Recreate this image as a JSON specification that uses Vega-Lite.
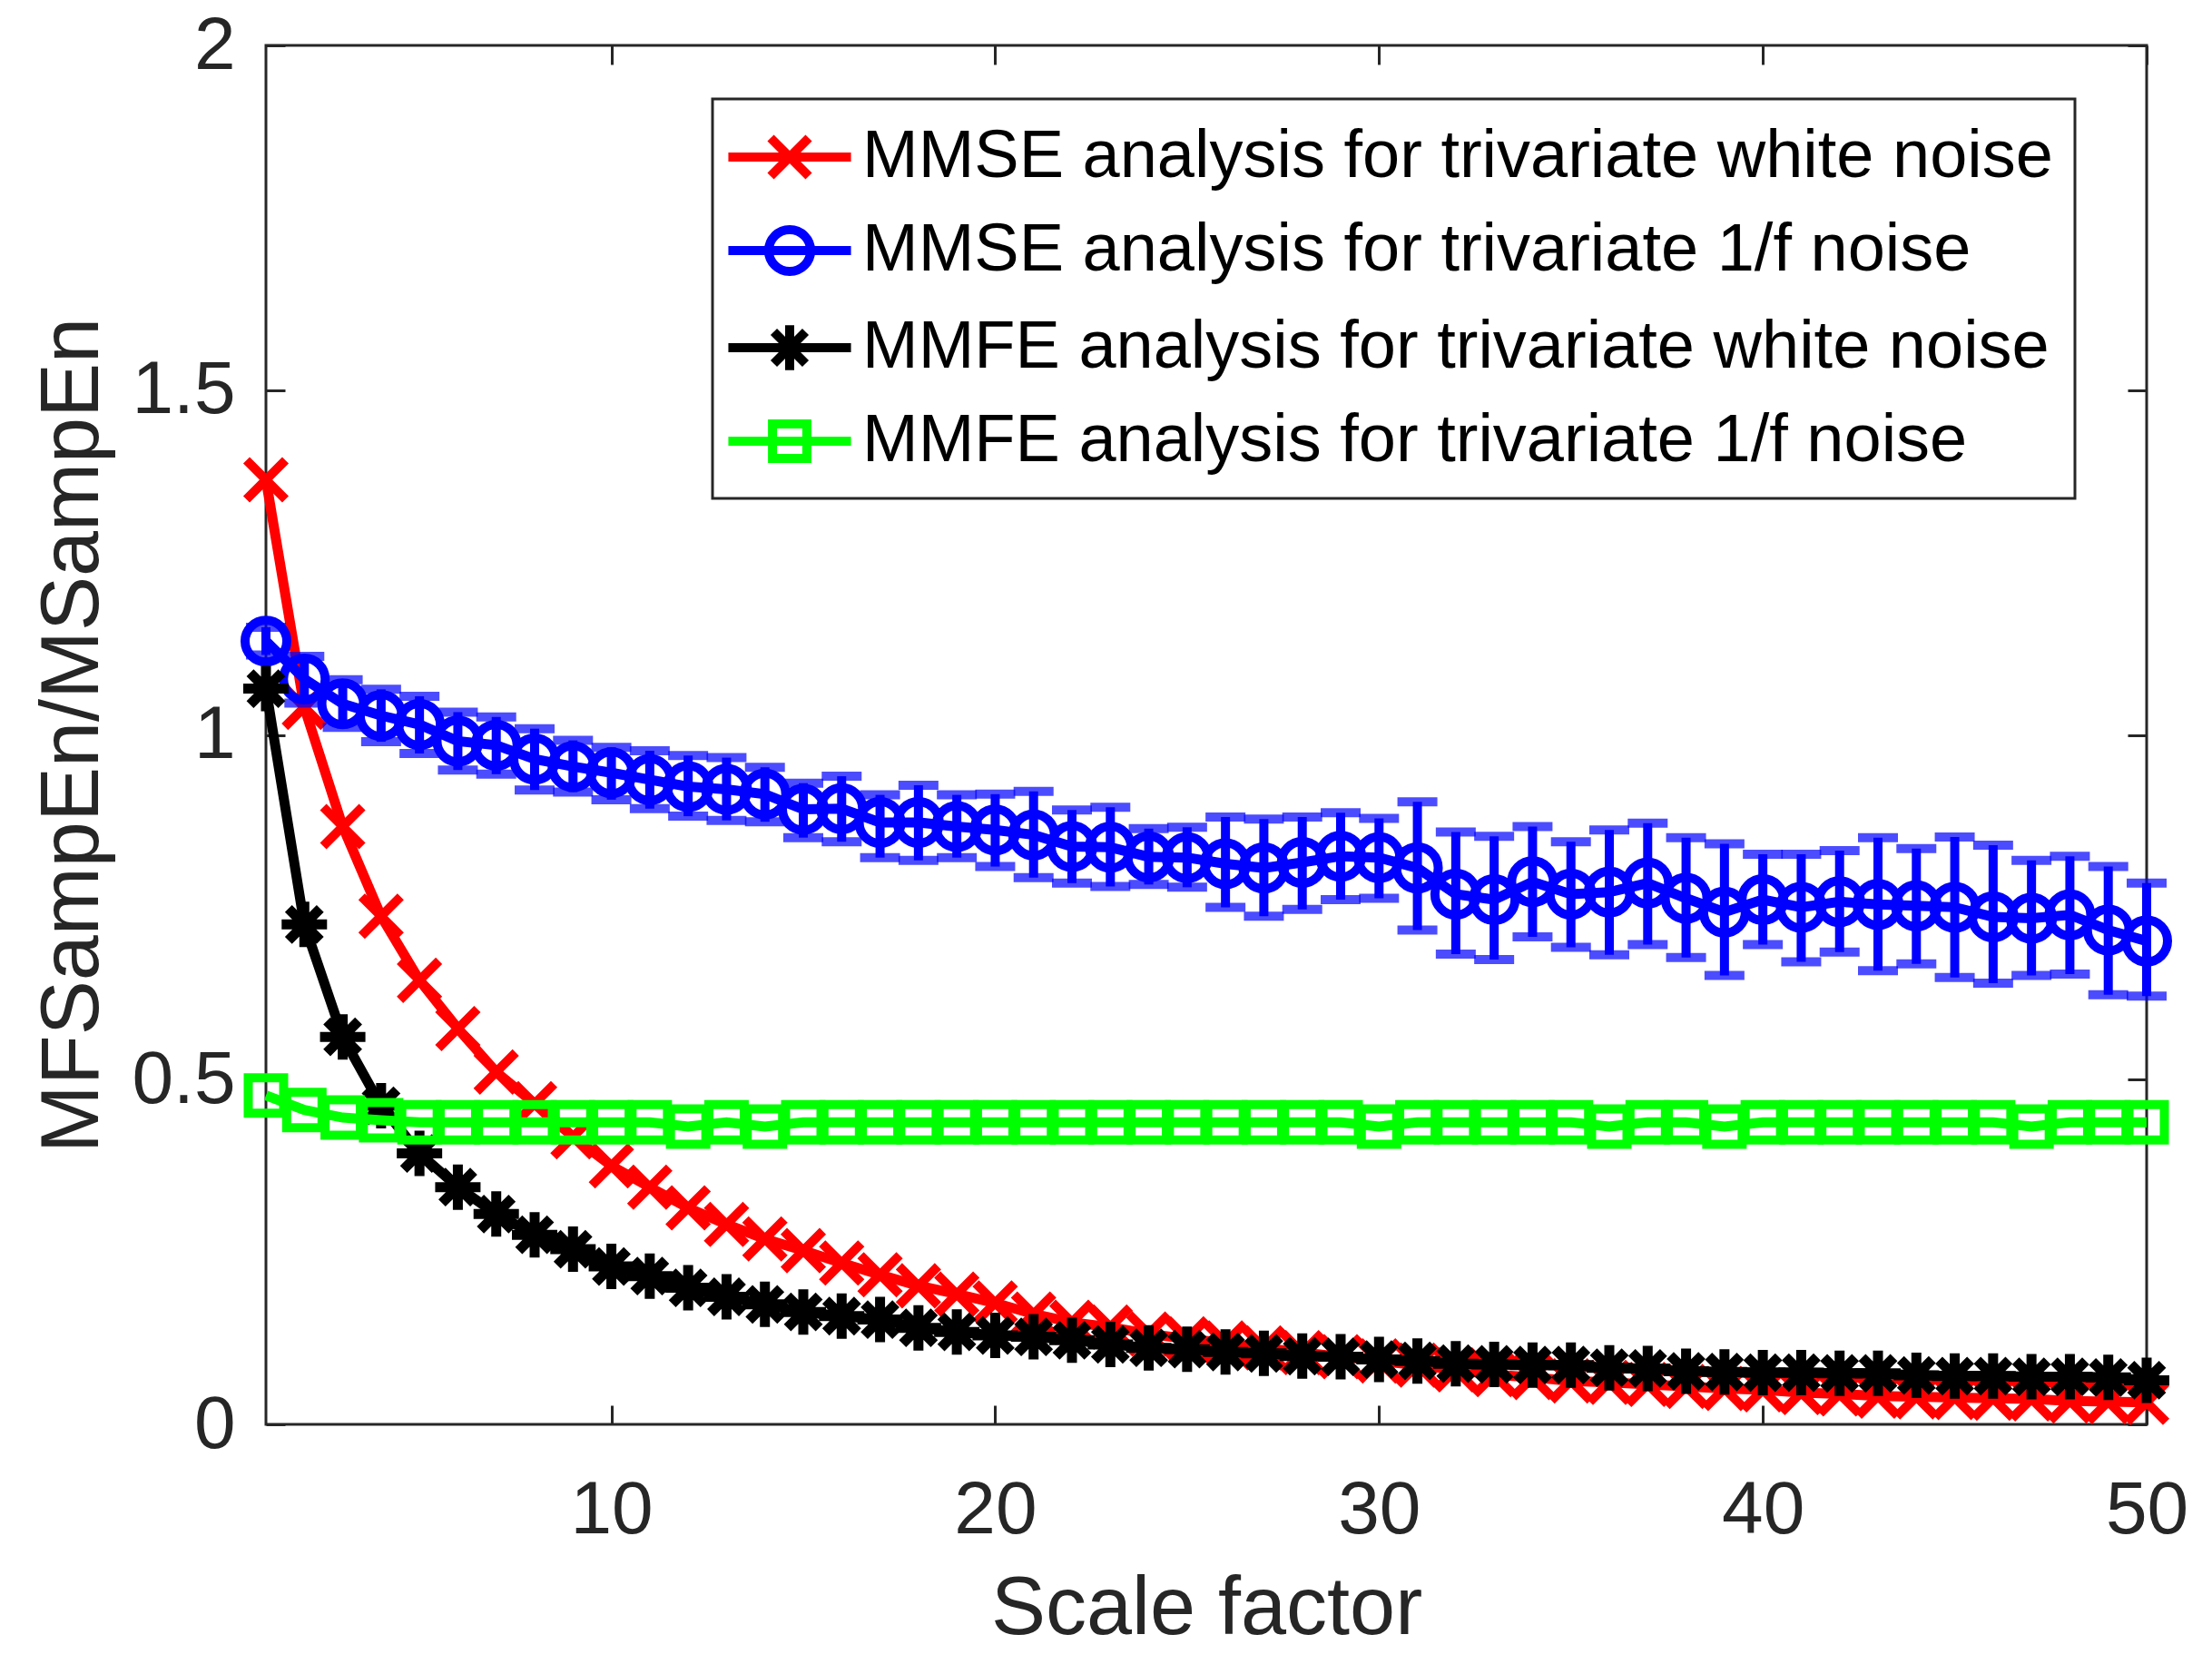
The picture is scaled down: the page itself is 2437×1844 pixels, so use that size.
{
"$schema": "https://vega.github.io/schema/vega-lite/v6.json",
"width": 2072, "height": 1519,
"autosize": {"type": "none"},
"padding": {"left": 293, "top": 50, "right": 72, "bottom": 275},
"config": {
  "view": {"stroke": "#262626", "strokeWidth": 3},
  "font": "Liberation Sans",
  "axis": {"domain": false, "grid": false, "tickColor": "#262626", "tickWidth": 3, "tickSize": -21, "labelFlush": false,
    "labelColor": "#262626", "labelFontSize": 82, "labelFont": "Liberation Sans",
    "titleFont": "Liberation Sans", "titleFontSize": 90, "titleFontWeight": "normal", "titleColor": "#262626"}
},
"datasets": {
"pts": [
{"series":"MMSE analysis for trivariate white noise","x":1,"y":1.370},
{"series":"MMSE analysis for trivariate white noise","x":2,"y":1.040},
{"series":"MMSE analysis for trivariate white noise","x":3,"y":0.867},
{"series":"MMSE analysis for trivariate white noise","x":4,"y":0.737},
{"series":"MMSE analysis for trivariate white noise","x":5,"y":0.644},
{"series":"MMSE analysis for trivariate white noise","x":6,"y":0.574},
{"series":"MMSE analysis for trivariate white noise","x":7,"y":0.511},
{"series":"MMSE analysis for trivariate white noise","x":8,"y":0.465},
{"series":"MMSE analysis for trivariate white noise","x":9,"y":0.417},
{"series":"MMSE analysis for trivariate white noise","x":10,"y":0.375},
{"series":"MMSE analysis for trivariate white noise","x":11,"y":0.344},
{"series":"MMSE analysis for trivariate white noise","x":12,"y":0.314},
{"series":"MMSE analysis for trivariate white noise","x":13,"y":0.290},
{"series":"MMSE analysis for trivariate white noise","x":14,"y":0.269},
{"series":"MMSE analysis for trivariate white noise","x":15,"y":0.252},
{"series":"MMSE analysis for trivariate white noise","x":16,"y":0.234},
{"series":"MMSE analysis for trivariate white noise","x":17,"y":0.217},
{"series":"MMSE analysis for trivariate white noise","x":18,"y":0.201},
{"series":"MMSE analysis for trivariate white noise","x":19,"y":0.189},
{"series":"MMSE analysis for trivariate white noise","x":20,"y":0.176},
{"series":"MMSE analysis for trivariate white noise","x":21,"y":0.160},
{"series":"MMSE analysis for trivariate white noise","x":22,"y":0.148},
{"series":"MMSE analysis for trivariate white noise","x":23,"y":0.141},
{"series":"MMSE analysis for trivariate white noise","x":24,"y":0.131},
{"series":"MMSE analysis for trivariate white noise","x":25,"y":0.124},
{"series":"MMSE analysis for trivariate white noise","x":26,"y":0.118},
{"series":"MMSE analysis for trivariate white noise","x":27,"y":0.111},
{"series":"MMSE analysis for trivariate white noise","x":28,"y":0.104},
{"series":"MMSE analysis for trivariate white noise","x":29,"y":0.098},
{"series":"MMSE analysis for trivariate white noise","x":30,"y":0.092},
{"series":"MMSE analysis for trivariate white noise","x":31,"y":0.086},
{"series":"MMSE analysis for trivariate white noise","x":32,"y":0.079},
{"series":"MMSE analysis for trivariate white noise","x":33,"y":0.072},
{"series":"MMSE analysis for trivariate white noise","x":34,"y":0.068},
{"series":"MMSE analysis for trivariate white noise","x":35,"y":0.063},
{"series":"MMSE analysis for trivariate white noise","x":36,"y":0.061},
{"series":"MMSE analysis for trivariate white noise","x":37,"y":0.058},
{"series":"MMSE analysis for trivariate white noise","x":38,"y":0.055},
{"series":"MMSE analysis for trivariate white noise","x":39,"y":0.052},
{"series":"MMSE analysis for trivariate white noise","x":40,"y":0.050},
{"series":"MMSE analysis for trivariate white noise","x":41,"y":0.046},
{"series":"MMSE analysis for trivariate white noise","x":42,"y":0.044},
{"series":"MMSE analysis for trivariate white noise","x":43,"y":0.041},
{"series":"MMSE analysis for trivariate white noise","x":44,"y":0.040},
{"series":"MMSE analysis for trivariate white noise","x":45,"y":0.039},
{"series":"MMSE analysis for trivariate white noise","x":46,"y":0.038},
{"series":"MMSE analysis for trivariate white noise","x":47,"y":0.037},
{"series":"MMSE analysis for trivariate white noise","x":48,"y":0.034},
{"series":"MMSE analysis for trivariate white noise","x":49,"y":0.033},
{"series":"MMSE analysis for trivariate white noise","x":50,"y":0.032},
{"series":"MMSE analysis for trivariate 1/f noise","x":1,"y":1.136},
{"series":"MMSE analysis for trivariate 1/f noise","x":2,"y":1.081},
{"series":"MMSE analysis for trivariate 1/f noise","x":3,"y":1.045},
{"series":"MMSE analysis for trivariate 1/f noise","x":4,"y":1.028},
{"series":"MMSE analysis for trivariate 1/f noise","x":5,"y":1.015},
{"series":"MMSE analysis for trivariate 1/f noise","x":6,"y":0.991},
{"series":"MMSE analysis for trivariate 1/f noise","x":7,"y":0.985},
{"series":"MMSE analysis for trivariate 1/f noise","x":8,"y":0.965},
{"series":"MMSE analysis for trivariate 1/f noise","x":9,"y":0.954},
{"series":"MMSE analysis for trivariate 1/f noise","x":10,"y":0.945},
{"series":"MMSE analysis for trivariate 1/f noise","x":11,"y":0.935},
{"series":"MMSE analysis for trivariate 1/f noise","x":12,"y":0.925},
{"series":"MMSE analysis for trivariate 1/f noise","x":13,"y":0.921},
{"series":"MMSE analysis for trivariate 1/f noise","x":14,"y":0.914},
{"series":"MMSE analysis for trivariate 1/f noise","x":15,"y":0.892},
{"series":"MMSE analysis for trivariate 1/f noise","x":16,"y":0.893},
{"series":"MMSE analysis for trivariate 1/f noise","x":17,"y":0.873},
{"series":"MMSE analysis for trivariate 1/f noise","x":18,"y":0.873},
{"series":"MMSE analysis for trivariate 1/f noise","x":19,"y":0.867},
{"series":"MMSE analysis for trivariate 1/f noise","x":20,"y":0.862},
{"series":"MMSE analysis for trivariate 1/f noise","x":21,"y":0.855},
{"series":"MMSE analysis for trivariate 1/f noise","x":22,"y":0.838},
{"series":"MMSE analysis for trivariate 1/f noise","x":23,"y":0.837},
{"series":"MMSE analysis for trivariate 1/f noise","x":24,"y":0.823},
{"series":"MMSE analysis for trivariate 1/f noise","x":25,"y":0.822},
{"series":"MMSE analysis for trivariate 1/f noise","x":26,"y":0.813},
{"series":"MMSE analysis for trivariate 1/f noise","x":27,"y":0.807},
{"series":"MMSE analysis for trivariate 1/f noise","x":28,"y":0.815},
{"series":"MMSE analysis for trivariate 1/f noise","x":29,"y":0.824},
{"series":"MMSE analysis for trivariate 1/f noise","x":30,"y":0.822},
{"series":"MMSE analysis for trivariate 1/f noise","x":31,"y":0.807},
{"series":"MMSE analysis for trivariate 1/f noise","x":32,"y":0.769},
{"series":"MMSE analysis for trivariate 1/f noise","x":33,"y":0.761},
{"series":"MMSE analysis for trivariate 1/f noise","x":34,"y":0.787},
{"series":"MMSE analysis for trivariate 1/f noise","x":35,"y":0.769},
{"series":"MMSE analysis for trivariate 1/f noise","x":36,"y":0.772},
{"series":"MMSE analysis for trivariate 1/f noise","x":37,"y":0.785},
{"series":"MMSE analysis for trivariate 1/f noise","x":38,"y":0.763},
{"series":"MMSE analysis for trivariate 1/f noise","x":39,"y":0.743},
{"series":"MMSE analysis for trivariate 1/f noise","x":40,"y":0.761},
{"series":"MMSE analysis for trivariate 1/f noise","x":41,"y":0.750},
{"series":"MMSE analysis for trivariate 1/f noise","x":42,"y":0.758},
{"series":"MMSE analysis for trivariate 1/f noise","x":43,"y":0.754},
{"series":"MMSE analysis for trivariate 1/f noise","x":44,"y":0.752},
{"series":"MMSE analysis for trivariate 1/f noise","x":45,"y":0.750},
{"series":"MMSE analysis for trivariate 1/f noise","x":46,"y":0.736},
{"series":"MMSE analysis for trivariate 1/f noise","x":47,"y":0.734},
{"series":"MMSE analysis for trivariate 1/f noise","x":48,"y":0.739},
{"series":"MMSE analysis for trivariate 1/f noise","x":49,"y":0.717},
{"series":"MMSE analysis for trivariate 1/f noise","x":50,"y":0.701},
{"series":"MMFE analysis for trivariate white noise","x":1,"y":1.067},
{"series":"MMFE analysis for trivariate white noise","x":2,"y":0.725},
{"series":"MMFE analysis for trivariate white noise","x":3,"y":0.562},
{"series":"MMFE analysis for trivariate white noise","x":4,"y":0.462},
{"series":"MMFE analysis for trivariate white noise","x":5,"y":0.393},
{"series":"MMFE analysis for trivariate white noise","x":6,"y":0.344},
{"series":"MMFE analysis for trivariate white noise","x":7,"y":0.305},
{"series":"MMFE analysis for trivariate white noise","x":8,"y":0.275},
{"series":"MMFE analysis for trivariate white noise","x":9,"y":0.254},
{"series":"MMFE analysis for trivariate white noise","x":10,"y":0.229},
{"series":"MMFE analysis for trivariate white noise","x":11,"y":0.215},
{"series":"MMFE analysis for trivariate white noise","x":12,"y":0.198},
{"series":"MMFE analysis for trivariate white noise","x":13,"y":0.185},
{"series":"MMFE analysis for trivariate white noise","x":14,"y":0.174},
{"series":"MMFE analysis for trivariate white noise","x":15,"y":0.163},
{"series":"MMFE analysis for trivariate white noise","x":16,"y":0.157},
{"series":"MMFE analysis for trivariate white noise","x":17,"y":0.152},
{"series":"MMFE analysis for trivariate white noise","x":18,"y":0.140},
{"series":"MMFE analysis for trivariate white noise","x":19,"y":0.134},
{"series":"MMFE analysis for trivariate white noise","x":20,"y":0.129},
{"series":"MMFE analysis for trivariate white noise","x":21,"y":0.127},
{"series":"MMFE analysis for trivariate white noise","x":22,"y":0.122},
{"series":"MMFE analysis for trivariate white noise","x":23,"y":0.116},
{"series":"MMFE analysis for trivariate white noise","x":24,"y":0.111},
{"series":"MMFE analysis for trivariate white noise","x":25,"y":0.109},
{"series":"MMFE analysis for trivariate white noise","x":26,"y":0.105},
{"series":"MMFE analysis for trivariate white noise","x":27,"y":0.103},
{"series":"MMFE analysis for trivariate white noise","x":28,"y":0.099},
{"series":"MMFE analysis for trivariate white noise","x":29,"y":0.098},
{"series":"MMFE analysis for trivariate white noise","x":30,"y":0.094},
{"series":"MMFE analysis for trivariate white noise","x":31,"y":0.092},
{"series":"MMFE analysis for trivariate white noise","x":32,"y":0.088},
{"series":"MMFE analysis for trivariate white noise","x":33,"y":0.087},
{"series":"MMFE analysis for trivariate white noise","x":34,"y":0.086},
{"series":"MMFE analysis for trivariate white noise","x":35,"y":0.086},
{"series":"MMFE analysis for trivariate white noise","x":36,"y":0.082},
{"series":"MMFE analysis for trivariate white noise","x":37,"y":0.081},
{"series":"MMFE analysis for trivariate white noise","x":38,"y":0.077},
{"series":"MMFE analysis for trivariate white noise","x":39,"y":0.076},
{"series":"MMFE analysis for trivariate white noise","x":40,"y":0.075},
{"series":"MMFE analysis for trivariate white noise","x":41,"y":0.075},
{"series":"MMFE analysis for trivariate white noise","x":42,"y":0.074},
{"series":"MMFE analysis for trivariate white noise","x":43,"y":0.074},
{"series":"MMFE analysis for trivariate white noise","x":44,"y":0.071},
{"series":"MMFE analysis for trivariate white noise","x":45,"y":0.070},
{"series":"MMFE analysis for trivariate white noise","x":46,"y":0.070},
{"series":"MMFE analysis for trivariate white noise","x":47,"y":0.069},
{"series":"MMFE analysis for trivariate white noise","x":48,"y":0.069},
{"series":"MMFE analysis for trivariate white noise","x":49,"y":0.068},
{"series":"MMFE analysis for trivariate white noise","x":50,"y":0.064},
{"series":"MMFE analysis for trivariate 1/f noise","x":1,"y":0.477},
{"series":"MMFE analysis for trivariate 1/f noise","x":2,"y":0.456},
{"series":"MMFE analysis for trivariate 1/f noise","x":3,"y":0.445},
{"series":"MMFE analysis for trivariate 1/f noise","x":4,"y":0.441},
{"series":"MMFE analysis for trivariate 1/f noise","x":5,"y":0.438},
{"series":"MMFE analysis for trivariate 1/f noise","x":6,"y":0.438},
{"series":"MMFE analysis for trivariate 1/f noise","x":7,"y":0.438},
{"series":"MMFE analysis for trivariate 1/f noise","x":8,"y":0.438},
{"series":"MMFE analysis for trivariate 1/f noise","x":9,"y":0.438},
{"series":"MMFE analysis for trivariate 1/f noise","x":10,"y":0.438},
{"series":"MMFE analysis for trivariate 1/f noise","x":11,"y":0.438},
{"series":"MMFE analysis for trivariate 1/f noise","x":12,"y":0.432},
{"series":"MMFE analysis for trivariate 1/f noise","x":13,"y":0.438},
{"series":"MMFE analysis for trivariate 1/f noise","x":14,"y":0.432},
{"series":"MMFE analysis for trivariate 1/f noise","x":15,"y":0.438},
{"series":"MMFE analysis for trivariate 1/f noise","x":16,"y":0.438},
{"series":"MMFE analysis for trivariate 1/f noise","x":17,"y":0.438},
{"series":"MMFE analysis for trivariate 1/f noise","x":18,"y":0.438},
{"series":"MMFE analysis for trivariate 1/f noise","x":19,"y":0.438},
{"series":"MMFE analysis for trivariate 1/f noise","x":20,"y":0.438},
{"series":"MMFE analysis for trivariate 1/f noise","x":21,"y":0.438},
{"series":"MMFE analysis for trivariate 1/f noise","x":22,"y":0.438},
{"series":"MMFE analysis for trivariate 1/f noise","x":23,"y":0.438},
{"series":"MMFE analysis for trivariate 1/f noise","x":24,"y":0.438},
{"series":"MMFE analysis for trivariate 1/f noise","x":25,"y":0.438},
{"series":"MMFE analysis for trivariate 1/f noise","x":26,"y":0.438},
{"series":"MMFE analysis for trivariate 1/f noise","x":27,"y":0.438},
{"series":"MMFE analysis for trivariate 1/f noise","x":28,"y":0.438},
{"series":"MMFE analysis for trivariate 1/f noise","x":29,"y":0.438},
{"series":"MMFE analysis for trivariate 1/f noise","x":30,"y":0.432},
{"series":"MMFE analysis for trivariate 1/f noise","x":31,"y":0.438},
{"series":"MMFE analysis for trivariate 1/f noise","x":32,"y":0.438},
{"series":"MMFE analysis for trivariate 1/f noise","x":33,"y":0.438},
{"series":"MMFE analysis for trivariate 1/f noise","x":34,"y":0.438},
{"series":"MMFE analysis for trivariate 1/f noise","x":35,"y":0.438},
{"series":"MMFE analysis for trivariate 1/f noise","x":36,"y":0.432},
{"series":"MMFE analysis for trivariate 1/f noise","x":37,"y":0.438},
{"series":"MMFE analysis for trivariate 1/f noise","x":38,"y":0.438},
{"series":"MMFE analysis for trivariate 1/f noise","x":39,"y":0.432},
{"series":"MMFE analysis for trivariate 1/f noise","x":40,"y":0.438},
{"series":"MMFE analysis for trivariate 1/f noise","x":41,"y":0.438},
{"series":"MMFE analysis for trivariate 1/f noise","x":42,"y":0.438},
{"series":"MMFE analysis for trivariate 1/f noise","x":43,"y":0.438},
{"series":"MMFE analysis for trivariate 1/f noise","x":44,"y":0.438},
{"series":"MMFE analysis for trivariate 1/f noise","x":45,"y":0.438},
{"series":"MMFE analysis for trivariate 1/f noise","x":46,"y":0.438},
{"series":"MMFE analysis for trivariate 1/f noise","x":47,"y":0.432},
{"series":"MMFE analysis for trivariate 1/f noise","x":48,"y":0.438},
{"series":"MMFE analysis for trivariate 1/f noise","x":49,"y":0.438},
{"series":"MMFE analysis for trivariate 1/f noise","x":50,"y":0.438}
],
"err": [
{"x":1,"lo":1.116,"hi":1.156},{"x":2,"lo":1.046,"hi":1.114},{"x":3,"lo":1.011,"hi":1.080},{"x":4,"lo":0.990,"hi":1.066},
{"x":5,"lo":0.973,"hi":1.056},{"x":6,"lo":0.949,"hi":1.033},{"x":7,"lo":0.943,"hi":1.026},{"x":8,"lo":0.920,"hi":1.009},
{"x":9,"lo":0.917,"hi":0.992},{"x":10,"lo":0.906,"hi":0.982},{"x":11,"lo":0.893,"hi":0.977},{"x":12,"lo":0.882,"hi":0.970},
{"x":13,"lo":0.876,"hi":0.967},{"x":14,"lo":0.874,"hi":0.953},{"x":15,"lo":0.851,"hi":0.930},{"x":16,"lo":0.845,"hi":0.940},
{"x":17,"lo":0.822,"hi":0.913},{"x":18,"lo":0.818,"hi":0.927},{"x":19,"lo":0.822,"hi":0.913},{"x":20,"lo":0.809,"hi":0.914},
{"x":21,"lo":0.793,"hi":0.918},{"x":22,"lo":0.785,"hi":0.891},{"x":23,"lo":0.780,"hi":0.895},{"x":24,"lo":0.783,"hi":0.864},
{"x":25,"lo":0.779,"hi":0.866},{"x":26,"lo":0.750,"hi":0.881},{"x":27,"lo":0.737,"hi":0.878},{"x":28,"lo":0.747,"hi":0.881},
{"x":29,"lo":0.761,"hi":0.887},{"x":30,"lo":0.763,"hi":0.879},{"x":31,"lo":0.717,"hi":0.903},{"x":32,"lo":0.682,"hi":0.859},
{"x":33,"lo":0.674,"hi":0.853},{"x":34,"lo":0.707,"hi":0.867},{"x":35,"lo":0.692,"hi":0.845},{"x":36,"lo":0.681,"hi":0.862},
{"x":37,"lo":0.696,"hi":0.872},{"x":38,"lo":0.677,"hi":0.851},{"x":39,"lo":0.651,"hi":0.842},{"x":40,"lo":0.696,"hi":0.827},
{"x":41,"lo":0.671,"hi":0.827},{"x":42,"lo":0.685,"hi":0.832},{"x":43,"lo":0.658,"hi":0.851},{"x":44,"lo":0.668,"hi":0.835},
{"x":45,"lo":0.648,"hi":0.852},{"x":46,"lo":0.640,"hi":0.840},{"x":47,"lo":0.651,"hi":0.818},{"x":48,"lo":0.653,"hi":0.824},
{"x":49,"lo":0.623,"hi":0.809},{"x":50,"lo":0.621,"hi":0.785}
]
},
"layer": [
{
  "data": {"name": "pts"},
  "transform": [{"filter": {"field": "series", "equal": "MMSE analysis for trivariate white noise"}}],
  "mark": {"type": "line", "strokeWidth": 11},
  "encoding": {
    "x": {"field": "x", "type": "quantitative", "scale": {"domain": [1, 50], "nice": false, "zero": false},
      "axis": {"orient": "bottom", "values": [10, 20, 30, 40, 50], "title": "Scale factor", "labelPadding": 75, "titlePadding": 24}},
    "y": {"field": "y", "type": "quantitative", "scale": {"domain": [0, 2], "nice": false, "zero": false},
      "axis": {"orient": "left", "values": [0, 0.5, 1, 1.5, 2], "format": "~g", "title": "MFSampEn/MSampEn", "labelPadding": 55, "titlePadding": 19}},
    "color": {"field": "series", "type": "nominal",
      "scale": {"domain": ["MMSE analysis for trivariate white noise", "MMSE analysis for trivariate 1/f noise", "MMFE analysis for trivariate white noise", "MMFE analysis for trivariate 1/f noise"],
                "range": ["#FF0000", "#0000FF", "#000000", "#00FF00"]},
      "legend": {"orient": "none", "legendX": 492, "legendY": 59, "title": null, "direction": "vertical",
        "labelFontSize": 74, "labelFont": "Liberation Sans", "labelColor": "#000000", "labelLimit": 3000,
        "symbolSize": 4900, "symbolStrokeWidth": 10, "symbolFillColor": "transparent", "labelOffset": 61,
        "rowPadding": 18, "padding": 24, "strokeColor": "#262626", "fillColor": "#FFFFFF",
        "encode": {
          "legend": {"update": {"strokeWidth": {"value": 3}}},
          "symbols": {"update": {
            "fill": {"value": "transparent"}, "strokeWidth": {"value": 10},
            "shape": {"signal": "datum.value == 'MMSE analysis for trivariate white noise' ? 'M-1.33,0L2.53,0M0,-0.6L1.2,0.6M0,0.6L1.2,-0.6' : datum.value == 'MMSE analysis for trivariate 1/f noise' ? 'M-1.33,0L2.53,0M-0.06,0A0.66,0.66 0 1,0 1.26,0A0.66,0.66 0 1,0 -0.06,0' : datum.value == 'MMFE analysis for trivariate white noise' ? 'M-1.33,0L2.53,0M0.6,-0.71L0.6,0.71M0.1,-0.5L1.1,0.5M0.1,0.5L1.1,-0.5' : 'M-1.33,0L2.53,0M0.06,-0.54L1.14,-0.54L1.14,0.54L0.06,0.54Z'"}
          }}
        }}
    }
  }
},
{
  "data": {"name": "pts"},
  "transform": [{"filter": {"field": "series", "equal": "MMSE analysis for trivariate white noise"}}],
  "mark": {"type": "point", "filled": false, "strokeWidth": 10, "opacity": 1, "color": "#FF0000", "shape": "M-1,-1L1,1M-1,1L1,-1", "size": 1849},
  "encoding": {
    "x": {"field": "x", "type": "quantitative", "scale": {"domain": [1, 50], "nice": false, "zero": false}, "axis": null},
    "y": {"field": "y", "type": "quantitative", "scale": {"domain": [0, 2], "nice": false, "zero": false}, "axis": null}
  }
},
{
  "data": {"name": "pts"},
  "transform": [{"filter": {"field": "series", "equal": "MMSE analysis for trivariate 1/f noise"}}],
  "mark": {"type": "line", "strokeWidth": 11},
  "encoding": {
    "x": {"field": "x", "type": "quantitative", "scale": {"domain": [1, 50], "nice": false, "zero": false}, "axis": null},
    "y": {"field": "y", "type": "quantitative", "scale": {"domain": [0, 2], "nice": false, "zero": false}, "axis": null},
    "color": {"field": "series", "type": "nominal"}
  }
},
{
  "data": {"name": "err"},
  "mark": {"type": "rule", "strokeWidth": 10, "color": "#0000FF"},
  "encoding": {
    "x": {"field": "x", "type": "quantitative", "scale": {"domain": [1, 50], "nice": false, "zero": false},
      "axis": {"orient": "top", "values": [10, 20, 30, 40, 50], "labels": false, "title": null}},
    "y": {"field": "lo", "type": "quantitative", "scale": {"domain": [0, 2], "nice": false, "zero": false},
      "axis": {"orient": "right", "values": [0, 0.5, 1, 1.5, 2], "labels": false, "title": null}},
    "y2": {"field": "hi"}
  }
},
{
  "data": {"name": "err"},
  "transform": [{"fold": ["lo", "hi"], "as": ["end", "yv"]}],
  "mark": {"type": "tick", "orient": "horizontal", "size": 44, "thickness": 10, "color": "#0000FF"},
  "encoding": {
    "x": {"field": "x", "type": "quantitative", "scale": {"domain": [1, 50], "nice": false, "zero": false}, "axis": null},
    "y": {"field": "yv", "type": "quantitative", "scale": {"domain": [0, 2], "nice": false, "zero": false}, "axis": null}
  }
},
{
  "data": {"name": "pts"},
  "transform": [{"filter": {"field": "series", "equal": "MMSE analysis for trivariate 1/f noise"}}],
  "mark": {"type": "point", "filled": false, "strokeWidth": 10, "opacity": 1, "color": "#0000FF", "shape": "circle", "size": 2116},
  "encoding": {
    "x": {"field": "x", "type": "quantitative", "scale": {"domain": [1, 50], "nice": false, "zero": false}, "axis": null},
    "y": {"field": "y", "type": "quantitative", "scale": {"domain": [0, 2], "nice": false, "zero": false}, "axis": null}
  }
},
{
  "data": {"name": "pts"},
  "transform": [{"filter": {"field": "series", "equal": "MMFE analysis for trivariate white noise"}}],
  "mark": {"type": "line", "strokeWidth": 11},
  "encoding": {
    "x": {"field": "x", "type": "quantitative", "scale": {"domain": [1, 50], "nice": false, "zero": false}, "axis": null},
    "y": {"field": "y", "type": "quantitative", "scale": {"domain": [0, 2], "nice": false, "zero": false}, "axis": null},
    "color": {"field": "series", "type": "nominal"}
  }
},
{
  "data": {"name": "pts"},
  "transform": [{"filter": {"field": "series", "equal": "MMFE analysis for trivariate white noise"}}],
  "mark": {"type": "point", "filled": false, "strokeWidth": 11, "opacity": 1, "color": "#000000", "shape": "M-1,0L1,0M0,-1L0,1M-0.7,-0.7L0.7,0.7M-0.7,0.7L0.7,-0.7", "size": 2500},
  "encoding": {
    "x": {"field": "x", "type": "quantitative", "scale": {"domain": [1, 50], "nice": false, "zero": false}, "axis": null},
    "y": {"field": "y", "type": "quantitative", "scale": {"domain": [0, 2], "nice": false, "zero": false}, "axis": null}
  }
},
{
  "data": {"name": "pts"},
  "transform": [{"filter": {"field": "series", "equal": "MMFE analysis for trivariate 1/f noise"}}],
  "mark": {"type": "line", "strokeWidth": 11},
  "encoding": {
    "x": {"field": "x", "type": "quantitative", "scale": {"domain": [1, 50], "nice": false, "zero": false}, "axis": null},
    "y": {"field": "y", "type": "quantitative", "scale": {"domain": [0, 2], "nice": false, "zero": false}, "axis": null},
    "color": {"field": "series", "type": "nominal"}
  }
},
{
  "data": {"name": "pts"},
  "transform": [{"filter": {"field": "series", "equal": "MMFE analysis for trivariate 1/f noise"}}],
  "mark": {"type": "point", "filled": false, "strokeWidth": 10, "opacity": 1, "color": "#00FF00", "shape": "square", "size": 1521},
  "encoding": {
    "x": {"field": "x", "type": "quantitative", "scale": {"domain": [1, 50], "nice": false, "zero": false}, "axis": null},
    "y": {"field": "y", "type": "quantitative", "scale": {"domain": [0, 2], "nice": false, "zero": false}, "axis": null}
  }
}
],
"resolve": {"axis": {"x": "independent", "y": "independent"}}
}
